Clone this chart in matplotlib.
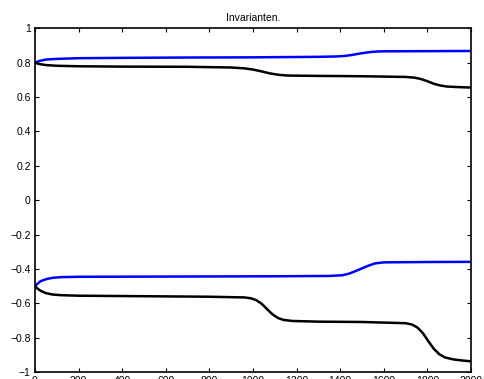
import matplotlib
matplotlib.use("Agg")
import matplotlib.pyplot as plt

# values
x_ub = [0, 20, 50, 100, 200, 400, 700, 1000, 1300, 1380, 1420, 1450, 1480, 1510, 1540,
        1570, 1600, 1800, 2000]
y_ub = [0.800, 0.810, 0.818, 0.822, 0.826, 0.828, 0.830, 0.831, 0.834, 0.836, 0.839, 0.844,
        0.851, 0.857, 0.862, 0.865, 0.866, 0.867, 0.868]

x_uk = [0, 20, 50, 100, 200, 400, 700, 900, 960, 1000, 1040, 1080, 1120, 1160, 1300, 1500,
        1700, 1740, 1770, 1800, 1830, 1860, 1890, 1940, 2000]
y_uk = [0.800, 0.792, 0.786, 0.782, 0.779, 0.777, 0.776, 0.772, 0.767, 0.760, 0.749, 0.737,
        0.729, 0.725, 0.723, 0.721, 0.717, 0.713, 0.705, 0.692, 0.677, 0.667, 0.661, 0.658,
        0.655]

x_lb = [0, 10, 25, 50, 80, 120, 200, 500, 800, 1100, 1350, 1410, 1440, 1470, 1500, 1530,
        1560, 1600, 1800, 2000]
y_lb = [-0.500, -0.488, -0.472, -0.460, -0.452, -0.448, -0.446, -0.445, -0.444, -0.443,
        -0.441, -0.437, -0.428, -0.413, -0.397, -0.381, -0.368, -0.362, -0.360, -0.359]

x_lk = [0, 10, 25, 50, 80, 120, 200, 500, 800, 960, 990, 1015, 1040, 1065, 1090, 1115,
        1140, 1180, 1300, 1500, 1700, 1730, 1755, 1780, 1805, 1830, 1855, 1880, 1920, 1960,
        2000]
y_lk = [-0.500, -0.513, -0.527, -0.541, -0.549, -0.553, -0.556, -0.559, -0.562, -0.566,
        -0.571, -0.582, -0.603, -0.635, -0.665, -0.686, -0.697, -0.703, -0.707, -0.709,
        -0.716, -0.724, -0.742, -0.775, -0.822, -0.866, -0.897, -0.915, -0.927, -0.933,
        -0.938]

xticks = list(range(0, 2001, 200))
yticks = [-1, -0.8, -0.6, -0.4, -0.2, 0, 0.2, 0.4, 0.6, 0.8, 1]
ytick_labels = ["\u22121", "\u22120.8", "\u22120.6", "\u22120.4", "\u22120.2", "0",
                "0.2", "0.4", "0.6", "0.8", "1"]

plt.rcParams['font.family'] = ['Liberation Sans', 'DejaVu Sans']

fig = plt.figure(figsize=(4.84, 3.79), dpi=100)
ax = fig.add_axes([35 / 484, 7 / 379, 436 / 484, 343.7 / 379])

ax.plot(x_ub, y_ub, color="#0000ff", lw=1.8)
ax.plot(x_uk, y_uk, color="black", lw=1.8)
ax.plot(x_lb, y_lb, color="#0000ff", lw=1.8)
ax.plot(x_lk, y_lk, color="black", lw=1.8)

ax.set_xlim(0, 2000)
ax.set_ylim(-1, 1)
ax.set_xticks(xticks)
ax.set_yticks(yticks)
ax.set_yticklabels(ytick_labels)
ax.tick_params(direction="in", top=True, right=True, length=3, width=0.8,
               labelsize=7.5, pad=3)
for s in ax.spines.values():
    s.set_linewidth(1.2)

ax.set_title("Invarianten.", fontsize=7.5, pad=5)

fig.savefig("out.png", dpi=100)
